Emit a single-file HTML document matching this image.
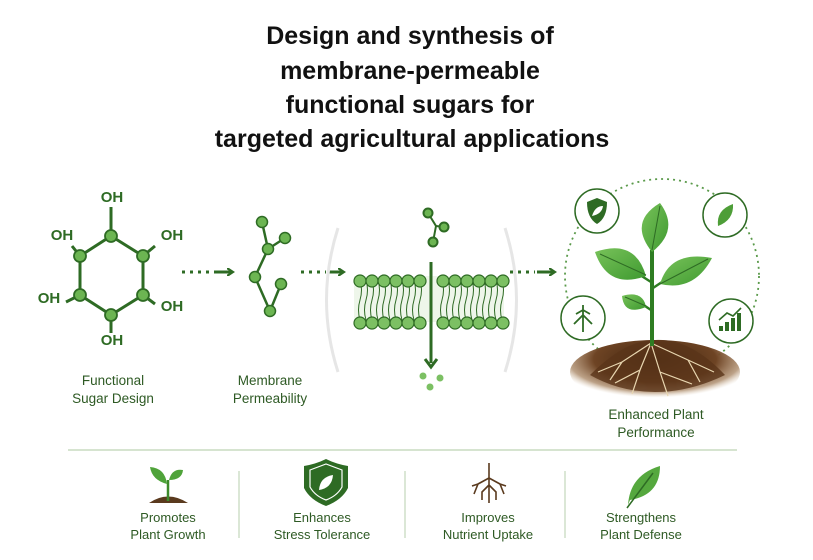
<!DOCTYPE html>
<html><head><meta charset="utf-8"><style>
body{margin:0;background:#fff;width:813px;height:555px;overflow:hidden;font-family:"Liberation Sans",sans-serif}
</style></head><body>
<svg width="813" height="555" viewBox="0 0 813 555" xmlns="http://www.w3.org/2000/svg">
<defs>
<radialGradient id="soil" cx="50%" cy="30%" r="60%"><stop offset="0" stop-color="#3f240f"/><stop offset="0.6" stop-color="#6e4424"/><stop offset="0.85" stop-color="#a07a55" stop-opacity="0.7"/><stop offset="1" stop-color="#d9c4a8" stop-opacity="0"/></radialGradient>
<linearGradient id="lf" x1="0" y1="0" x2="1" y2="1"><stop offset="0" stop-color="#78c25a"/><stop offset="1" stop-color="#3f9a30"/></linearGradient>
<marker id="ah" markerWidth="8" markerHeight="8" refX="5" refY="4" orient="auto" markerUnits="userSpaceOnUse"><path d="M0,0 L6,4 L0,8" fill="none" stroke="#2e6b24" stroke-width="2.2"/></marker>
</defs>
<g font-weight="bold" font-size="25" text-anchor="middle" fill="#111">
<text x="410" y="44">Design and synthesis of</text>
<text x="410" y="79">membrane-permeable</text>
<text x="410" y="113">functional sugars for</text>
<text x="412" y="147">targeted agricultural applications</text>
</g>
<!-- hexagon -->
<g stroke="#2e6b24" stroke-width="3" fill="#6cb552">
<polyline fill="none" points="111,236 143,256 143,295 111,315 80,295 80,256 111,236"/>
<line x1="111" y1="236" x2="111" y2="207"/><line x1="111" y1="315" x2="111" y2="333"/>
<line x1="143" y1="256" x2="155" y2="246"/><line x1="80" y1="256" x2="72" y2="246"/>
<line x1="80" y1="295" x2="66" y2="302"/><line x1="143" y1="295" x2="155" y2="304"/>
<g stroke-width="1.8"><circle cx="111" cy="236" r="6"/><circle cx="143" cy="256" r="6"/><circle cx="143" cy="295" r="6"/><circle cx="111" cy="315" r="6"/><circle cx="80" cy="295" r="6"/><circle cx="80" cy="256" r="6"/></g>
</g>
<g font-size="15" font-weight="bold" fill="#2e6b24" text-anchor="middle">
<text x="112" y="202">OH</text><text x="62" y="240">OH</text><text x="172" y="240">OH</text>
<text x="49" y="303">OH</text><text x="172" y="311">OH</text><text x="112" y="345">OH</text>
</g>
<!-- arrows -->
<g stroke="#2e6b24" stroke-width="3" fill="none">
<line x1="182" y1="272" x2="212" y2="272" stroke-dasharray="3,5"/><line x1="214" y1="272" x2="232" y2="272" marker-end="url(#ah)"/>
<line x1="301" y1="272" x2="326" y2="272" stroke-dasharray="3,5"/><line x1="328" y1="272" x2="343" y2="272" marker-end="url(#ah)"/>
<line x1="510" y1="272" x2="535" y2="272" stroke-dasharray="3,5"/><line x1="537" y1="272" x2="554" y2="272" marker-end="url(#ah)"/>
</g>
<!-- chain -->
<g stroke="#2e6b24" stroke-width="2.5" fill="#6cb552">
<polyline fill="none" points="262,222 268,249 255,277 270,311 281,284"/><line x1="285" y1="238" x2="268" y2="249"/>
<g stroke-width="1.5"><circle cx="262" cy="222" r="5.5"/><circle cx="285" cy="238" r="5.5"/><circle cx="268" cy="249" r="5.5"/><circle cx="255" cy="277" r="5.5"/><circle cx="281" cy="284" r="5.5"/><circle cx="270" cy="311" r="5.5"/></g>
</g>
<!-- membrane -->
<path d="M338,228 Q315,300 338,372" stroke="#e6e6e6" stroke-width="3" fill="none"/>
<path d="M505,228 Q528,300 505,372" stroke="#e6e6e6" stroke-width="3" fill="none"/>
<rect x="354" y="276" width="150" height="46" fill="#eef6ea"/>
<g stroke="#2e6b24" stroke-width="1" fill="none">
<path d="M360,280 q3,10 0,20 q-3,10 0,20 M366,280 q3,10 0,20 q-3,10 0,20 M372,280 q3,10 0,20 q-3,10 0,20 M378,280 q3,10 0,20 q-3,10 0,20 M384,280 q3,10 0,20 q-3,10 0,20 M390,280 q3,10 0,20 q-3,10 0,20 M396,280 q3,10 0,20 q-3,10 0,20 M402,280 q3,10 0,20 q-3,10 0,20 M408,280 q3,10 0,20 q-3,10 0,20 M414,280 q3,10 0,20 q-3,10 0,20 M420,280 q3,10 0,20 q-3,10 0,20"/>
<path d="M442,280 q3,10 0,20 q-3,10 0,20 M448,280 q3,10 0,20 q-3,10 0,20 M454,280 q3,10 0,20 q-3,10 0,20 M460,280 q3,10 0,20 q-3,10 0,20 M466,280 q3,10 0,20 q-3,10 0,20 M472,280 q3,10 0,20 q-3,10 0,20 M478,280 q3,10 0,20 q-3,10 0,20 M484,280 q3,10 0,20 q-3,10 0,20 M490,280 q3,10 0,20 q-3,10 0,20 M496,280 q3,10 0,20 q-3,10 0,20 M502,280 q3,10 0,20 q-3,10 0,20"/>
</g>
<g fill="#7cc063" stroke="#2e6b24" stroke-width="1.2">
<circle cx="360" cy="281" r="6"/><circle cx="372" cy="281" r="6"/><circle cx="384" cy="281" r="6"/><circle cx="396" cy="281" r="6"/><circle cx="408" cy="281" r="6"/><circle cx="420" cy="281" r="6"/>
<circle cx="360" cy="323" r="6"/><circle cx="372" cy="323" r="6"/><circle cx="384" cy="323" r="6"/><circle cx="396" cy="323" r="6"/><circle cx="408" cy="323" r="6"/><circle cx="420" cy="323" r="6"/>
<circle cx="443" cy="281" r="6"/><circle cx="455" cy="281" r="6"/><circle cx="467" cy="281" r="6"/><circle cx="479" cy="281" r="6"/><circle cx="491" cy="281" r="6"/><circle cx="503" cy="281" r="6"/>
<circle cx="443" cy="323" r="6"/><circle cx="455" cy="323" r="6"/><circle cx="467" cy="323" r="6"/><circle cx="479" cy="323" r="6"/><circle cx="491" cy="323" r="6"/><circle cx="503" cy="323" r="6"/>
</g>
<line x1="431" y1="262" x2="431" y2="363" stroke="#2e6b24" stroke-width="3"/>
<path d="M425,359 L431,367 L437,359" fill="none" stroke="#2e6b24" stroke-width="3"/>
<g stroke="#2e6b24" stroke-width="2" fill="#6cb552">
<polyline fill="none" points="428,213 436,226 433,242"/><line x1="436" y1="226" x2="444" y2="227"/>
<circle cx="428" cy="213" r="4.5"/><circle cx="444" cy="227" r="4.5"/><circle cx="433" cy="242" r="4.5"/>
</g>
<g fill="#7cc063"><circle cx="423" cy="376" r="3.5"/><circle cx="440" cy="378" r="3.5"/><circle cx="430" cy="387" r="3.5"/></g>
<!-- plant area -->
<circle cx="662" cy="276" r="97" fill="none" stroke="#5a9a4a" stroke-width="1.8" stroke-dasharray="2,4"/>
<ellipse cx="655" cy="372" rx="85" ry="32" fill="url(#soil)"/>
<path d="M590,375 Q625,340 655,340 Q690,338 725,375 Q690,392 655,392 Q620,392 590,375 Z" fill="#5a3519" opacity="0.8"/>
<g stroke="#e8d6b0" stroke-width="1.2" fill="none">
<path d="M651,343 L640,370 L632,394 M651,343 L660,372 L668,396 M651,343 L622,362 L598,372 M651,343 L688,360 L714,372 M640,370 L615,383 M660,372 L692,384 M622,362 L610,380 M688,360 L700,382"/>
</g>
<g stroke="#2e7d22" fill="none">
<path d="M652,346 L652,250" stroke-width="4"/>
<path d="M651,282 L640,275 M653,288 L662,282 M651,310 L645,306" stroke-width="2.5"/>
</g>
<g fill="url(#lf)">
<path d="M652,252 Q628,222 660,203 Q680,230 652,252 Z"/>
<path d="M646,276 Q608,290 595,252 Q635,238 646,276 Z"/>
<path d="M660,284 Q670,250 712,258 Q694,292 660,284 Z"/>
<path d="M646,307 Q624,316 622,296 Q643,290 646,307 Z"/>
</g>
<g stroke="#2e6b24" stroke-width="1" fill="none">
<path d="M652,250 L660,206 M646,275 L600,254 M660,284 L708,259 M646,306 L625,297"/>
</g>
<g fill="#fff" stroke="#2e6b24" stroke-width="1.5">
<circle cx="597" cy="211" r="22"/><circle cx="725" cy="215" r="22"/><circle cx="583" cy="318" r="22"/><circle cx="731" cy="321" r="22"/>
</g>
<path d="M597,198 L607,202 Q607,218 597,224 Q587,218 587,202 Z" fill="#2e6b24"/>
<path d="M592,216 Q595,206 603,206 Q602,214 592,216 Z" fill="#fff"/>
<path d="M718,226 Q716,210 733,204 Q734,220 718,226 Z" fill="#4e9e38"/>
<path d="M583,305 L583,332 M583,315 L574,324 M583,315 L592,324 M583,310 L576,314 M583,310 L590,314" stroke="#2e6b24" stroke-width="1.8" fill="none"/>
<g fill="#2e6b24"><rect x="719" y="326" width="4" height="5"/><rect x="725" y="322" width="4" height="9"/><rect x="731" y="318" width="4" height="13"/><rect x="737" y="313" width="4" height="18"/></g>
<path d="M719,320 L727,313 L733,316 L741,308" stroke="#2e6b24" stroke-width="1.6" fill="none"/>
<!-- labels -->
<g font-size="13.5" fill="#2e5a24" text-anchor="middle">
<text x="113" y="385">Functional</text><text x="113" y="403">Sugar Design</text>
<text x="270" y="385">Membrane</text><text x="270" y="403">Permeability</text>
<text x="656" y="419">Enhanced Plant</text><text x="656" y="437">Performance</text>
</g>
<line x1="68" y1="450" x2="737" y2="450" stroke="#c8dcc0" stroke-width="1.5"/>
<g stroke="#cfdfc9" stroke-width="1.5"><line x1="239" y1="471" x2="239" y2="538"/><line x1="405" y1="471" x2="405" y2="538"/><line x1="565" y1="471" x2="565" y2="538"/></g>
<!-- bottom icons -->
<path d="M149,503 Q168,490 188,503 Z" fill="#5a3a1e"/>
<path d="M168,501 L168,480" stroke="#3d8a2a" stroke-width="2.5"/>
<path d="M167,484 Q152,480 150,467 Q165,468 167,484 Z M169,480 Q172,468 183,470 Q182,480 169,480 Z" fill="#4fa33a"/>
<path d="M304,466 Q316,464 326,459 Q336,464 348,466 L348,488 Q342,500 326,506 Q310,500 304,488 Z" fill="#2e6b24"/>
<path d="M310,470 L326,464 L342,470 L342,487 Q337,496 326,500 Q315,496 310,487 Z" fill="none" stroke="#fff" stroke-width="1.2"/>
<path d="M319,490 Q320,477 333,475 Q332,488 319,490 Z" fill="#fff"/>
<g stroke="#5a3a1e" stroke-width="1.6" fill="none"><path d="M489,463 L489,503 M489,478 L478,484 L474,494 M489,478 L500,484 L504,494 M489,485 L482,492 L482,500 M489,485 L496,492 L496,500 M478,484 L472,486 M500,484 L506,486"/></g>
<path d="M628,505 Q630,475 660,466 Q660,495 630,500 Z" fill="#55a83e"/>
<path d="M627,508 L653,473" stroke="#2e6b24" stroke-width="1.5"/>
<g font-size="13" fill="#2e5a24" text-anchor="middle">
<text x="168" y="522">Promotes</text><text x="168" y="539">Plant Growth</text>
<text x="322" y="522">Enhances</text><text x="322" y="539">Stress Tolerance</text>
<text x="488" y="522">Improves</text><text x="488" y="539">Nutrient Uptake</text>
<text x="641" y="522">Strengthens</text><text x="641" y="539">Plant Defense</text>
</g>
</svg>
</body></html>
